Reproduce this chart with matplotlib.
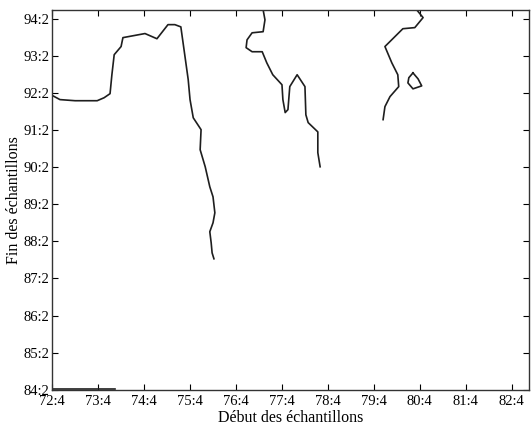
import matplotlib
matplotlib.use("Agg")
import matplotlib.pyplot as plt

plt.rcParams["font.family"] = ["Liberation Serif", "DejaVu Serif"]

# --- Donnees ---
x_ticks = [72.4, 73.4, 74.4, 75.4, 76.4, 77.4, 78.4, 79.4, 80.4, 81.4, 82.4]
x_labels = ["72:4", "73:4", "74:4", "75:4", "76:4", "77:4", "78:4", "79:4", "80:4", "81:4", "82:4"]
y_ticks = [84.2, 85.2, 86.2, 87.2, 88.2, 89.2, 90.2, 91.2, 92.2, 93.2, 94.2]
y_labels = ["84:2", "85:2", "86:2", "87:2", "88:2", "89:2", "90:2", "91:2", "92:2", "93:2", "94:2"]

courbe_a_x = [72.42, 72.57, 72.90, 73.38, 73.53, 73.66, 73.70, 73.75, 73.90, 73.94, 74.42, 74.68,
              74.92, 75.07, 75.20, 75.27, 75.36, 75.40, 75.47, 75.64, 75.62, 75.73, 75.83, 75.90,
              75.94, 75.90, 75.83, 75.86, 75.88, 75.92]
courbe_a_y = [92.12, 92.02, 91.99, 91.99, 92.07, 92.18, 92.69, 93.23, 93.45, 93.69, 93.80, 93.66,
              94.04, 94.04, 93.98, 93.36, 92.56, 92.02, 91.53, 91.21, 90.67, 90.21, 89.67, 89.40,
              88.97, 88.70, 88.46, 88.16, 87.89, 87.73]

courbe_b_x = [76.99, 77.03, 76.99, 76.75, 76.64, 76.62, 76.75, 76.97, 77.07, 77.20, 77.40, 77.42,
              77.47, 77.53, 77.57, 77.73, 77.90, 77.92, 77.97, 78.18, 78.18, 78.23]
courbe_b_y = [94.44, 94.17, 93.85, 93.82, 93.63, 93.42, 93.31, 93.31, 93.01, 92.69, 92.42, 92.02,
              91.67, 91.75, 92.37, 92.69, 92.37, 91.61, 91.40, 91.15, 90.59, 90.21]

courbe_c_x = [80.33, 80.47, 80.29, 80.03, 79.64, 79.79, 79.92, 79.94, 79.75, 79.64, 79.60]
courbe_c_y = [94.44, 94.23, 93.96, 93.93, 93.45, 93.01, 92.69, 92.37, 92.10, 91.83, 91.48]

boucle_x = [80.25, 80.16, 80.14, 80.25, 80.44, 80.36, 80.25]
boucle_y = [92.74, 92.61, 92.47, 92.31, 92.39, 92.58, 92.74]

bas_x = [72.42, 73.77]
bas_y = [84.23, 84.23]

# --- Figure ---
fig = plt.figure(figsize=(5.32, 4.26), dpi=100)
ax = fig.add_axes([0.098, 0.085, 0.896, 0.892])

for xs, ys in [(courbe_a_x, courbe_a_y), (courbe_b_x, courbe_b_y), (courbe_c_x, courbe_c_y),
               (boucle_x, boucle_y), (bas_x, bas_y)]:
    ax.plot(xs, ys, color="#1e1e1e", linewidth=1.2, solid_joinstyle="round")

ax.set_xlim(72.4, 82.77)
ax.set_ylim(84.2, 94.44)
ax.set_xticks(x_ticks)
ax.set_xticklabels(x_labels)
ax.set_yticks(y_ticks)
ax.set_yticklabels(y_labels)
ax.tick_params(direction="in", length=4, top=True, right=True, labelsize=10.5)
ax.tick_params(axis="x", pad=4)
ax.tick_params(axis="y", pad=2)
for s in ax.spines.values():
    s.set_linewidth(1.0)
    s.set_color("#333333")

ax.set_xlabel("Début des échantillons", fontsize=11.5)
ax.xaxis.set_label_coords(0.5, -0.054)
ax.set_ylabel("Fin des échantillons", fontsize=11.5, labelpad=1)

fig.savefig("out.png", dpi=100)
